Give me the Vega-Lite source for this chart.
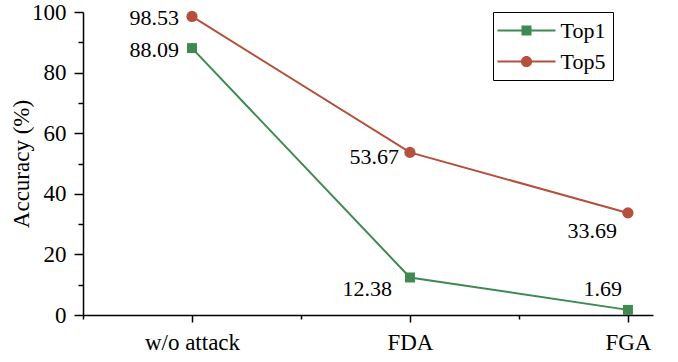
{
  "$schema": "https://vega.github.io/schema/vega-lite/v6.json",
  "width": 570,
  "height": 303,
  "autosize": {"type": "none"},
  "padding": {"left": 83, "top": 12, "right": 25, "bottom": 47},
  "background": "white",
  "config": {
    "view": {"stroke": null},
    "font": "Liberation Serif",
    "text": {"font": "Liberation Serif"},
    "axis": {"grid": false, "domainColor": "black", "tickColor": "black", "domainWidth": 1.5, "tickWidth": 1.5, "labelColor": "black", "titleColor": "black", "labelFont": "Liberation Serif", "titleFont": "Liberation Serif", "labelFontSize": 23, "titleFontSize": 23, "titleFontWeight": "normal"},
    "legend": {"labelFont": "Liberation Serif"}
  },
  "data": {"values": [
    {"method": "w/o attack", "idx": 0, "series": "Top1", "acc": 88.09, "label": "88.09"},
    {"method": "FDA", "idx": 1, "series": "Top1", "acc": 12.38, "label": "12.38"},
    {"method": "FGA", "idx": 2, "series": "Top1", "acc": 1.69, "label": "1.69"},
    {"method": "w/o attack", "idx": 0, "series": "Top5", "acc": 98.53, "label": "98.53"},
    {"method": "FDA", "idx": 1, "series": "Top5", "acc": 53.67, "label": "53.67"},
    {"method": "FGA", "idx": 2, "series": "Top5", "acc": 33.69, "label": "33.69"}
  ]},
  "encoding": {
    "x": {"field": "idx", "type": "quantitative", "scale": {"domain": [-0.5, 2.115], "nice": false, "zero": false},
      "axis": {"title": null, "values": [-0.5, 0, 0.5, 1, 1.5, 2], "labelExpr": "datum.value === 0 ? 'w/o attack' : datum.value === 1 ? 'FDA' : datum.value === 2 ? 'FGA' : ''",
        "tickSize": {"condition": {"test": "datum.value % 1 === 0", "value": 7}, "value": 4}, "labelPadding": 9, "labelFlush": false, "labelOverlap": false}},
    "y": {"field": "acc", "type": "quantitative", "scale": {"domain": [0, 100], "nice": false},
      "axis": {"title": "Accuracy (%)", "values": [0, 10, 20, 30, 40, 50, 60, 70, 80, 90, 100], "labelExpr": "datum.value % 20 === 0 ? datum.label : ''",
        "tickSize": {"condition": {"test": "datum.value % 20 === 0", "value": 9}, "value": 5}, "labelPadding": 8, "titlePadding": -2, "labelOverlap": false}},
    "color": {"field": "series", "type": "nominal", "scale": {"domain": ["Top1", "Top5"], "range": ["#3e8a52", "#b4503c"]},
      "legend": {"title": null, "orient": "none", "legendX": 410, "legendY": 0, "strokeColor": "black", "padding": 7.5, "labelFontSize": 22, "labelFont": "Liberation Serif", "labelColor": "black", "symbolSize": 400, "symbolOffset": 15, "labelOffset": 23, "rowPadding": 9,
        "encode": {"symbols": {"update": {"shape": {"signal": "datum.value === 'Top1' ? 'M-2.9,-0.1H2.9V0.1H-2.9Z M-0.5,-0.5H0.5V0.5H-0.5Z' : 'M-2.9,-0.1H2.9V0.1H-2.9Z M0.56,0A0.56,0.56 0 1,1 -0.56,0A0.56,0.56 0 1,1 0.56,0Z'"}, "size": {"value": 400}, "fill": {"signal": "datum.value === 'Top1' ? '#3e8a52' : '#b4503c'"}, "fillOpacity": {"value": 1}, "strokeWidth": {"value": 0}}}}}}
  },
  "layer": [
    {"mark": {"type": "line", "strokeWidth": 2}},
    {"transform": [{"filter": "datum.series === 'Top1'"}], "mark": {"type": "point", "shape": "square", "size": 100, "filled": true, "opacity": 1}},
    {"transform": [{"filter": "datum.series === 'Top5'"}], "mark": {"type": "point", "shape": "circle", "size": 125, "filled": true, "opacity": 1}},
    {"transform": [{"filter": "datum.label === '98.53' || datum.label === '88.09'"}], "mark": {"type": "text", "align": "right", "baseline": "middle", "dx": -13, "dy": 2, "fontSize": 22, "font": "Liberation Serif"}, "encoding": {"text": {"field": "label"}, "color": {"value": "black"}}},
    {"transform": [{"filter": "datum.label === '53.67'"}], "mark": {"type": "text", "align": "right", "baseline": "middle", "dx": -11, "dy": 5, "fontSize": 22, "font": "Liberation Serif"}, "encoding": {"text": {"field": "label"}, "color": {"value": "black"}}},
    {"transform": [{"filter": "datum.label === '12.38'"}], "mark": {"type": "text", "align": "right", "baseline": "middle", "dx": -18, "dy": 12, "fontSize": 22, "font": "Liberation Serif"}, "encoding": {"text": {"field": "label"}, "color": {"value": "black"}}},
    {"transform": [{"filter": "datum.label === '33.69'"}], "mark": {"type": "text", "align": "right", "baseline": "middle", "dx": -11, "dy": 18, "fontSize": 22, "font": "Liberation Serif"}, "encoding": {"text": {"field": "label"}, "color": {"value": "black"}}},
    {"transform": [{"filter": "datum.label === '1.69'"}], "mark": {"type": "text", "align": "right", "baseline": "middle", "dx": -6, "dy": -21, "fontSize": 22, "font": "Liberation Serif"}, "encoding": {"text": {"field": "label"}, "color": {"value": "black"}}}
  ]
}
